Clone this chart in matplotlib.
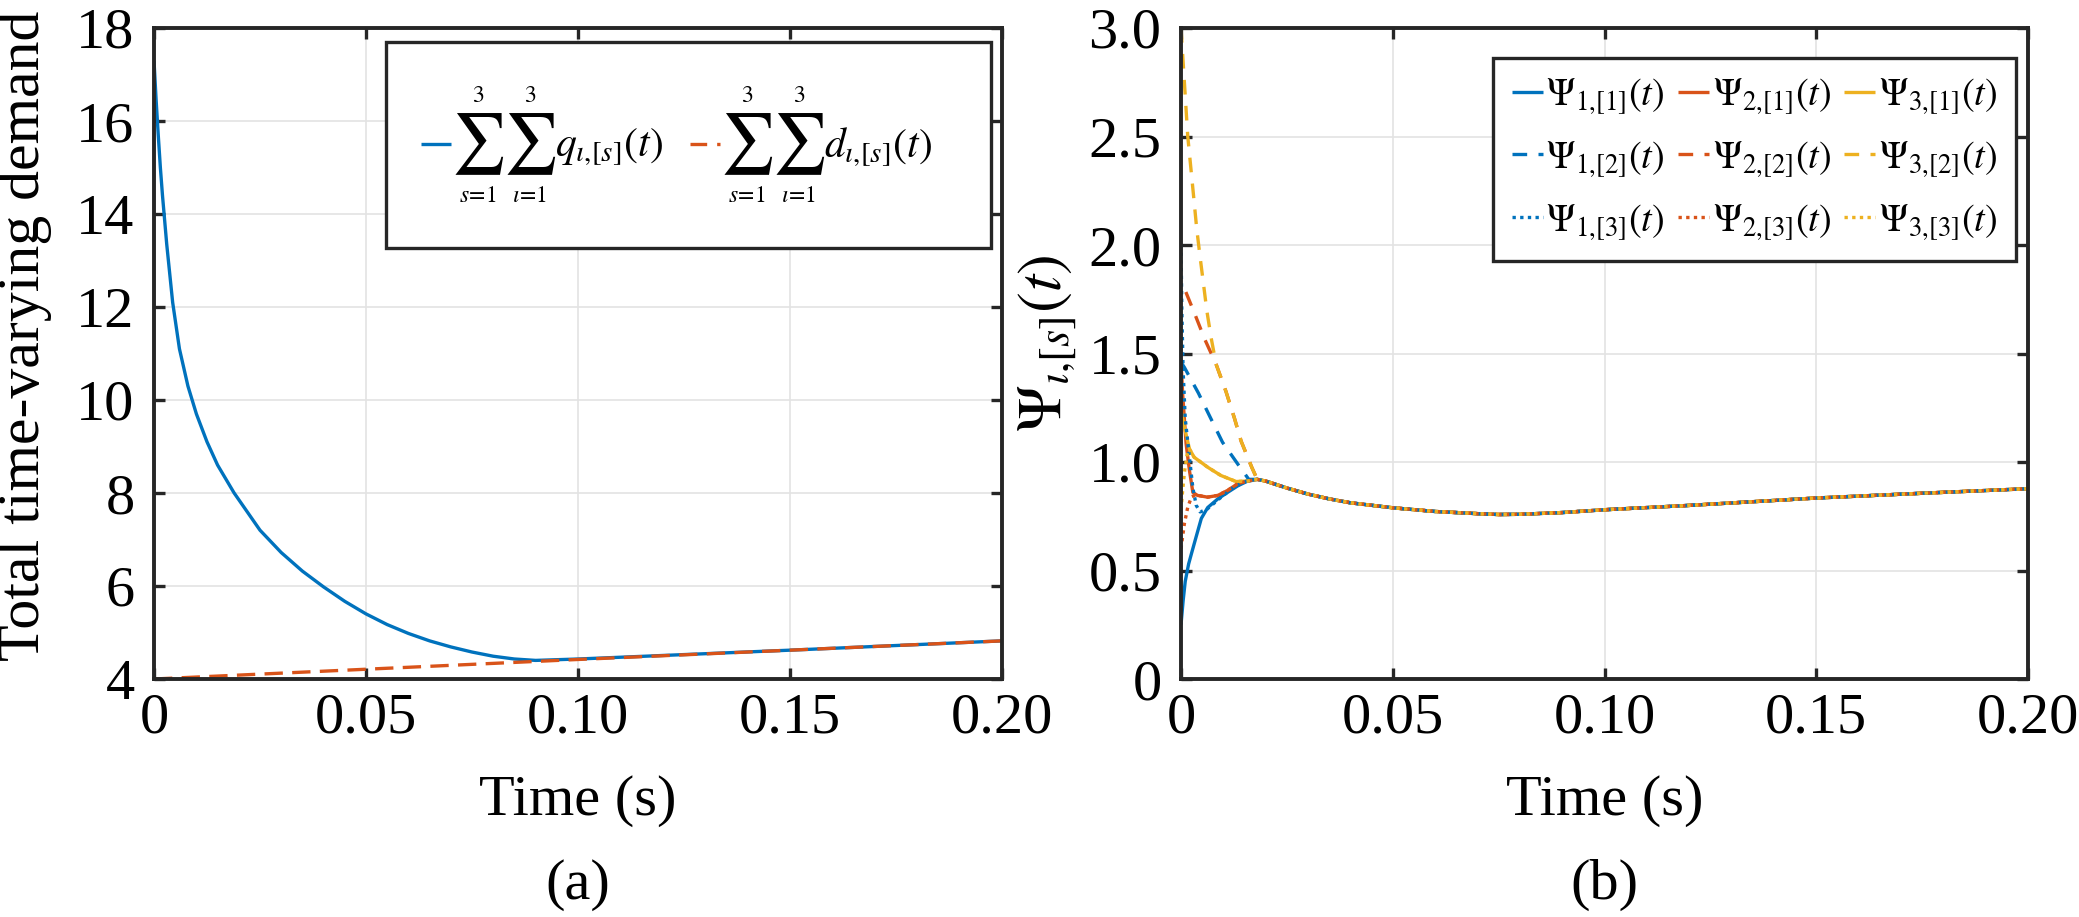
import matplotlib
matplotlib.use('Agg')
import numpy as np
import matplotlib.pyplot as plt
from matplotlib.lines import Line2D
from matplotlib.patches import Rectangle

plt.rcParams['font.family'] = ['Liberation Serif', 'DejaVu Serif']
plt.rcParams['mathtext.fontset'] = 'stix'

BLUE = '#0072BD'
ORANGE = '#D95319'
YELLOW = '#EDB120'
DARK = '#262626'
GRID = '#e3e3e3'

# ---------------- data (a) ----------------
t_q = [0, 0.0005, 0.001, 0.0015, 0.002, 0.003, 0.0044, 0.006, 0.008, 0.010,
       0.0125, 0.015, 0.0189, 0.025, 0.03, 0.035, 0.04, 0.045, 0.05, 0.055,
       0.06, 0.065, 0.07, 0.075, 0.08, 0.085, 0.09, 0.10, 0.15, 0.20]
q_sum = [17.3, 16.45, 15.7, 15.0, 14.4, 13.35, 12.1, 11.1, 10.3, 9.7,
         9.1, 8.6, 8.0, 7.2, 6.72, 6.32, 5.98, 5.67, 5.40, 5.17,
         4.98, 4.82, 4.69, 4.58, 4.49, 4.43, 4.40, 4.43, 4.62, 4.82]
t_d = [0, 0.05, 0.10, 0.15, 0.20]
d_sum = [4.0, 4.21, 4.42, 4.62, 4.82]

# ---------------- data (b) ----------------
t_tail = [0.018, 0.02, 0.025, 0.03, 0.035, 0.04, 0.05, 0.06, 0.07, 0.075,
          0.08, 0.09, 0.10, 0.12, 0.15, 0.175, 0.20]
psi_tail = [0.92, 0.912, 0.88, 0.852, 0.83, 0.812, 0.789, 0.772, 0.762, 0.758,
            0.759, 0.767, 0.78, 0.80, 0.834, 0.856, 0.877]

t_p11 = [0, 0.0005, 0.001, 0.0018, 0.0025, 0.0035, 0.0048, 0.0063, 0.0087, 0.011, 0.0134, 0.0155]
p11 = [0.25, 0.36, 0.45, 0.53, 0.58, 0.65, 0.74, 0.79, 0.83, 0.86, 0.89, 0.91]
t_p21 = [0, 0.0004, 0.0012, 0.002, 0.0028, 0.0039, 0.0063, 0.0087, 0.011, 0.0134, 0.0155]
p21 = [1.47, 1.31, 1.085, 0.96, 0.86, 0.846, 0.838, 0.846, 0.869, 0.90, 0.912]
t_p31 = [0, 0.0008, 0.002, 0.0031, 0.0063, 0.0094, 0.013, 0.0155]
p31 = [1.24, 1.16, 1.06, 1.022, 0.976, 0.938, 0.91, 0.912]

t_p12 = [0, 0.0008, 0.0041, 0.0069, 0.0098, 0.0135, 0.016]
p12 = [1.46, 1.436, 1.318, 1.206, 1.091, 0.988, 0.92]
t_p22 = [0, 0.001, 0.0033, 0.0056, 0.0083, 0.0106, 0.0126, 0.0142, 0.0167]
p22 = [1.83, 1.79, 1.68, 1.566, 1.45, 1.326, 1.203, 1.096, 0.976]
t_p32 = [0, 0.0016, 0.0031, 0.0037, 0.0045, 0.0053, 0.0061, 0.0071, 0.0083,
         0.0106, 0.0126, 0.0142, 0.0167]
p32 = [3.0, 2.5, 2.2, 2.077, 1.946, 1.822, 1.697, 1.574, 1.45,
       1.326, 1.203, 1.096, 0.976]

t_p13 = [0, 0.0002, 0.0005, 0.001, 0.002, 0.0028, 0.0036, 0.0045, 0.006, 0.009, 0.0125, 0.0155]
p13 = [2.0, 1.7, 1.42, 1.2, 1.02, 0.88, 0.80, 0.77, 0.78, 0.83, 0.885, 0.912]
t_p23 = [0, 0.0008, 0.0016, 0.0025, 0.0035, 0.0063, 0.0087, 0.011, 0.0134, 0.0155]
p23 = [0.60, 0.716, 0.792, 0.84, 0.848, 0.838, 0.846, 0.869, 0.90, 0.912]
t_p33 = [0, 0.0004, 0.0008, 0.0014, 0.002, 0.0031, 0.0063, 0.0094, 0.013, 0.0155]
p33 = [0.78, 0.87, 0.95, 1.03, 1.06, 1.022, 0.976, 0.938, 0.91, 0.912]

x_ticks = [0, 0.05, 0.10, 0.15, 0.20]
x_ticklabels = ['0', '0.05', '0.10', '0.15', '0.20']
ya_ticks = [4, 6, 8, 10, 12, 14, 16, 18]
yb_ticks = [0, 0.5, 1.0, 1.5, 2.0, 2.5, 3.0]
yb_ticklabels = ['0', '0.5', '1.0', '1.5', '2.0', '2.5', '3.0']

W, H = 2079, 917
fig = plt.figure(figsize=(W / 100, H / 100), dpi=100)
ax1 = fig.add_axes([154 / W, 238 / H, 848 / W, 651 / H])
ax2 = fig.add_axes([1181 / W, 238 / H, 847 / W, 651 / H])

LW = 2.4
FS = 42


def fx(x):
    return x / W


def fy(y):
    return 1 - y / H


def style(ax):
    for s in ax.spines.values():
        s.set_linewidth(2.8)
        s.set_color(DARK)
    ax.grid(True, color=GRID, linewidth=1.2)
    ax.set_axisbelow(True)
    ax.tick_params(direction='in', length=8, width=2.4, color=DARK,
                   top=True, right=True, labelsize=FS, labelcolor='black')
    ax.tick_params(axis='x', pad=10)
    ax.tick_params(axis='y', pad=14)


# ---- (a) ----
ax1.set_xlim(0, 0.2)
ax1.set_ylim(4, 18)
ax1.plot(t_q, q_sum, color=BLUE, lw=LW, solid_capstyle='butt')
ax1.plot(t_d, d_sum, color=ORANGE, lw=LW, dashes=(5.5, 2.8), dash_capstyle='butt')
ax1.set_xticks(x_ticks)
ax1.set_xticklabels(x_ticklabels)
ax1.set_yticks(ya_ticks)
style(ax1)

# manual legend for (a) (display-style sums)
fig.add_artist(Rectangle((fx(386), fy(248)), fx(991) - fx(386), fy(42) - fy(248),
                         transform=fig.transFigure, facecolor='white',
                         edgecolor=DARK, linewidth=2.4, zorder=5))
fig.add_artist(Line2D([fx(421), fx(451)], [fy(144), fy(144)], transform=fig.transFigure,
                      color=BLUE, lw=LW, solid_capstyle='butt', zorder=6))
fig.add_artist(Line2D([fx(690), fx(720)], [fy(144), fy(144)], transform=fig.transFigure,
                      color=ORANGE, lw=LW, dashes=(5.0, 3.0), dash_capstyle='butt', zorder=6))
leg_a_terms = [
    (478, 530, 555, r'$q_{\iota{,}[s]}(t)$'),
    (747, 799, 824, r'$d_{\iota{,}[s]}(t)$'),
]
for xs1, xs2, xq, lab in leg_a_terms:
    for xs, low in ((xs1, r'$s\!=\!1$'), (xs2, r'$\iota\!=\!1$')):
        fig.text(fx(xs), fy(144), r'$\sum$', fontsize=43, ha='center', va='center', zorder=6)
        fig.text(fx(xs), fy(97), r'$3$', fontsize=17, ha='center', va='center', zorder=6)
        fig.text(fx(xs), fy(196), low, fontsize=17, ha='center', va='center', zorder=6)
    fig.text(fx(xq), fy(146), lab, fontsize=30, ha='left', va='center', zorder=6)

# ---- (b) ----
ax2.set_xlim(0, 0.2)
ax2.set_ylim(0, 3)
DASH = (4.4, 3.4)
DOT = (1.0, 1.3)


def arc_pts(tt, vv):
    p = ax2.transData.transform(np.column_stack([tt, vv]))
    return np.hypot(np.diff(p[:, 0]), np.diff(p[:, 1])).sum() * 72.0 / fig.dpi


# Psi_2,[2] runs on top of Psi_3,[2] after t = 0.0083: align the dash phase
k22 = t_p22.index(0.0083)
k32 = t_p32.index(0.0083)
period = sum(DASH) * LW
off22 = ((arc_pts(t_p32[:k32 + 1], p32[:k32 + 1]) -
          arc_pts(t_p22[:k22 + 1], p22[:k22 + 1])) % period) / LW

series = [
    (t_p11, p11, BLUE, '-', r'$\Psi_{1{,}[1]}(t)$'),
    (t_p21, p21, ORANGE, '-', r'$\Psi_{2{,}[1]}(t)$'),
    (t_p31, p31, YELLOW, '-', r'$\Psi_{3{,}[1]}(t)$'),
    (t_p12, p12, BLUE, (0, DASH), r'$\Psi_{1{,}[2]}(t)$'),
    (t_p22, p22, ORANGE, (off22, DASH), r'$\Psi_{2{,}[2]}(t)$'),
    (t_p32, p32, YELLOW, (0, DASH), r'$\Psi_{3{,}[2]}(t)$'),
    (t_p13, p13, BLUE, (0, DOT), r'$\Psi_{1{,}[3]}(t)$'),
    (t_p23, p23, ORANGE, (0, DOT), r'$\Psi_{2{,}[3]}(t)$'),
    (t_p33, p33, YELLOW, (0, DOT), r'$\Psi_{3{,}[3]}(t)$'),
]
for tt, vv, col, ls, lab in series:
    ax2.plot(list(tt) + t_tail, list(vv) + psi_tail, color=col, lw=LW,
             linestyle=ls, dash_capstyle='butt', solid_capstyle='butt')

legend_handles = []
for col, ls in ((BLUE, '-'), (BLUE, (0, DASH)), (BLUE, (0, DOT)),
                (ORANGE, '-'), (ORANGE, (0, DASH)), (ORANGE, (0, DOT)),
                (YELLOW, '-'), (YELLOW, (0, DASH)), (YELLOW, (0, DOT))):
    legend_handles.append(Line2D([], [], color=col, lw=LW, linestyle=ls,
                                 dash_capstyle='butt', solid_capstyle='butt'))
order = [0, 3, 6, 1, 4, 7, 2, 5, 8]
leg2 = ax2.legend(legend_handles, [series[i][4] for i in order],
                  loc='upper right', bbox_to_anchor=(0.986, 0.954), ncol=3,
                  fontsize=27.5, handlelength=0.8, handletextpad=0.1,
                  columnspacing=0.35, labelspacing=0.62, borderpad=0.5,
                  borderaxespad=0, fancybox=False, edgecolor=DARK, framealpha=1)
leg2.get_frame().set_linewidth(2.4)
ax2.set_xticks(x_ticks)
ax2.set_xticklabels(x_ticklabels)
ax2.set_yticks(yb_ticks)
ax2.set_yticklabels(yb_ticklabels)
style(ax2)

# ---- labels ----
fig.text(25 / W, 0.634, 'Total time-varying demand', rotation=90,
         ha='center', va='center', fontsize=43)
fig.text(1048 / W, 0.626, r'$\Psi_{\iota{,}[s]}(t)$', rotation=90,
         ha='center', va='center', fontsize=45)
fig.text(578 / W, 0.1265, 'Time (s)', ha='center', va='center', fontsize=FS)
fig.text(1604.5 / W, 0.1265, 'Time (s)', ha='center', va='center', fontsize=FS)
fig.text(578 / W, 0.0349, '(a)', ha='center', va='center', fontsize=FS)
fig.text(1604.5 / W, 0.0349, '(b)', ha='center', va='center', fontsize=FS)

fig.savefig('out.png', dpi=100, facecolor='white')
